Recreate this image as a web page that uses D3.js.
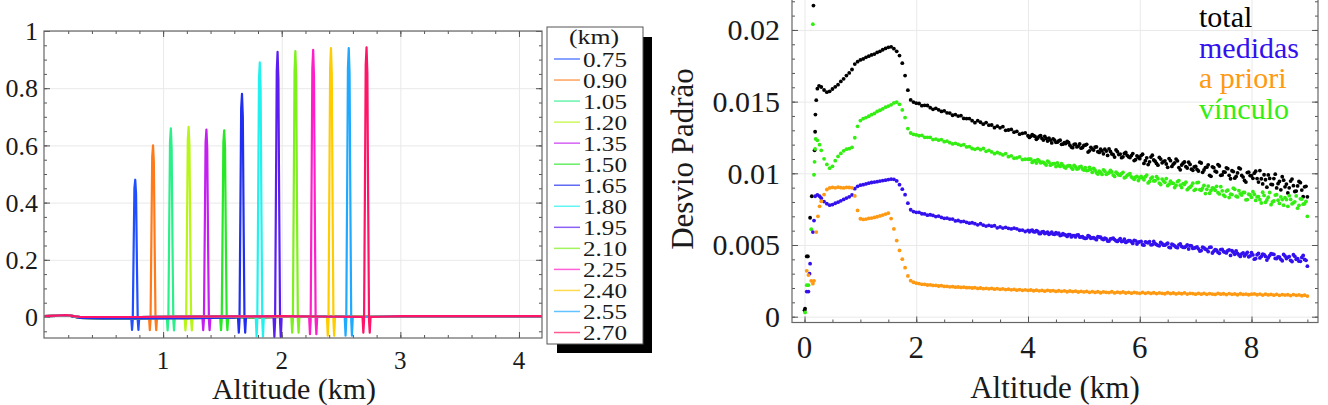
<!DOCTYPE html>
<html>
<head>
<meta charset="utf-8">
<title>Kernels e desvio padrao</title>
<script src="https://d3js.org/d3.v7.min.js"></script>
<style>
  body { margin: 0; background: #fff; }
  text { font-family: "Liberation Serif", "Tinos", "Times New Roman", serif; fill: #1a1a1a; }
  .grid line { stroke: #e9e9e9; stroke-width: 1; }
  .grid path, .ticks path { display: none; }
  .ticks line { stroke: #555; stroke-width: 1; }
  .frame { fill: none; stroke: #666; stroke-width: 1.2; }
</style>
</head>
<body>
<svg width="1328" height="405"></svg>
<script>
// ---------- left panel: kernels ----------
var kernelLabel = ["0.75","0.90","1.05","1.20","1.35","1.50","1.65","1.80","1.95","2.10","2.25","2.40","2.55","2.70"];
var kernelPeakAlt = [0.765,0.915,1.065,1.215,1.365,1.515,1.665,1.815,1.965,2.115,2.265,2.415,2.565,2.715];
var kernelColor = ["#1f4fff","#ff7a1a","#2af08a","#b8f518","#c41ff0","#26e826","#1f2ef0",
                   "#22f2ee","#5a1ff0","#7ef01a","#ff1fc8","#ffcc00","#1faaff","#ff1468"];
// offsets (km) around each peak and the kernel values read there
var spikeOffset = [-0.034,-0.027,-0.021,-0.014,-0.007,0,0.007,0.014,0.021,0.027,0.034];
var spikeValues = [
  [0,-0.045,-0.010,0.22,0.45,0.48,0.43,0.19,-0.010,-0.045,0],
  [0,-0.046,-0.010,0.27,0.56,0.60,0.54,0.24,-0.010,-0.046,0],
  [0,-0.047,-0.010,0.30,0.61,0.66,0.59,0.26,-0.010,-0.047,0],
  [0,-0.047,-0.010,0.30,0.62,0.665,0.60,0.27,-0.010,-0.047,0],
  [0,-0.046,-0.010,0.29,0.61,0.655,0.59,0.26,-0.010,-0.046,0],
  [0,-0.046,-0.010,0.29,0.61,0.653,0.59,0.26,-0.010,-0.046,0],
  [0,-0.055,-0.012,0.35,0.73,0.78,0.70,0.31,-0.012,-0.055,0],
  [0,-0.068,-0.015,0.40,0.83,0.89,0.80,0.36,-0.015,-0.068,0],
  [0,-0.070,-0.016,0.42,0.86,0.927,0.83,0.37,-0.016,-0.070,0],
  [0,-0.055,-0.013,0.42,0.86,0.93,0.84,0.37,-0.013,-0.055,0],
  [0,-0.060,-0.013,0.42,0.87,0.934,0.84,0.37,-0.013,-0.060,0],
  [0,-0.065,-0.014,0.42,0.87,0.94,0.85,0.38,-0.014,-0.065,0],
  [0,-0.065,-0.014,0.42,0.87,0.94,0.85,0.38,-0.014,-0.065,0],
  [0,-0.055,-0.013,0.42,0.88,0.943,0.85,0.38,-0.013,-0.055,0]
];
// baseline away from the peak: lower kernels sit slightly below zero
var baseLowAlt  = [0, 0.10, 0.18, 0.22, 0.30, 0.50, 0.80, 1.20, 1.60, 2.00, 3.00, 4.19];
var baseLowVal  = [0.003, 0.004, 0.006, 0.004, -0.003, -0.005, -0.005, -0.004, -0.002, 0.000, 0.001, 0.001];
var baseHighAlt = [0, 0.10, 0.18, 0.22, 0.30, 0.80, 1.20, 1.60, 2.00, 3.00, 4.19];
var baseHighVal = [0.003, 0.005, 0.007, 0.005, 0.000, 0.000, 0.001, 0.002, 0.003, 0.003, 0.003];

var kernXTicks = [1, 2, 3, 4];
var kernYTicks = [0, 0.2, 0.4, 0.6, 0.8, 1];

// ---------- right panel: standard deviation ----------
// values on the 0.30 .. 9.00 km grid (0.05 km step)
var sdTotal = [
  0.01602,0.01581,0.01566,0.01572,0.01588,0.01603,0.01618,0.01641,0.01659,0.01682,
  0.01700,0.01724,0.01762,0.01779,0.01791,0.01798,0.01809,0.01817,0.01826,0.01832,
  0.01843,0.01851,0.01862,0.01871,0.01879,0.01882,0.01869,0.01851,0.01821,0.01768,
  0.01682,0.01580,0.01512,0.01497,0.01489,
  0.01487,0.01472,0.01474,0.01473,0.01458,0.01446,0.01453,0.01443,0.01432,0.01436,0.01422,0.01420,0.01405,0.01410,0.01399,0.01402,0.01383,0.01382,0.01382,0.01367,
  0.01353,0.01367,0.01356,0.01343,0.01354,0.01336,0.01337,0.01318,0.01329,0.01317,0.01325,0.01300,0.01302,0.01306,0.01287,0.01292,0.01273,0.01279,0.01282,0.01262,
  0.01258,0.01263,0.01237,0.01258,0.01243,0.01258,0.01225,0.01232,0.01240,0.01216,0.01226,0.01202,0.01214,0.01222,0.01196,0.01179,0.01204,0.01190,0.01175,0.01194,
  0.01202,0.01157,0.01169,0.01183,0.01151,0.01168,0.01136,0.01155,0.01170,0.01135,0.01113,0.01151,0.01134,0.01115,0.01145,0.01115,0.01124,0.01089,0.01122,0.01102,
  0.01133,0.01088,0.01061,0.01113,0.01093,0.01069,0.01111,0.01073,0.01087,0.01042,0.01088,0.01064,0.01099,0.01040,0.01058,0.01079,0.01037,0.01062,0.01021,0.01049,
  0.01016,0.01072,0.01023,0.01043,0.00986,0.01045,0.01015,0.01061,0.00986,0.01010,0.01038,0.00986,0.01018,0.00966,0.01003,0.01031,0.00974,0.00939,0.01008,0.00983,
  0.01001,0.00963,0.01019,0.00926,0.00955,0.00989,0.00923,0.00963,0.00898,0.00943,0.00976,0.00906,0.00863,0.00946,0.00914,0.00876,0.00943,0.00883,0.00906,0.00836
];
var sdMedidas = [
  0.00826,0.00803,0.00788,0.00778,0.00782,0.00791,0.00799,0.00808,0.00818,0.00827,
  0.00836,0.00849,0.00893,0.00909,0.00917,0.00921,0.00926,0.00931,0.00936,0.00939,
  0.00942,0.00946,0.00949,0.00952,0.00956,0.00959,0.00958,0.00947,0.00921,0.00889,
  0.00851,0.00792,0.00746,0.00733,0.00728,
  0.00728,0.00718,0.00717,0.00708,0.00711,0.00706,0.00698,0.00702,0.00692,0.00686,0.00687,0.00681,0.00681,0.00668,0.00671,0.00663,0.00665,0.00658,0.00652,0.00655,
  0.00649,0.00641,0.00649,0.00638,0.00632,0.00637,0.00631,0.00635,0.00620,0.00626,0.00618,0.00623,0.00616,0.00612,0.00617,0.00613,0.00603,0.00604,0.00594,0.00602,
  0.00600,0.00593,0.00600,0.00580,0.00591,0.00580,0.00589,0.00581,0.00576,0.00586,0.00582,0.00569,0.00572,0.00560,0.00572,0.00566,0.00556,0.00570,0.00556,0.00549,
  0.00548,0.00560,0.00550,0.00544,0.00558,0.00554,0.00538,0.00542,0.00527,0.00544,0.00538,0.00525,0.00544,0.00527,0.00518,0.00531,0.00522,0.00532,0.00507,0.00522,
  0.00502,0.00522,0.00515,0.00501,0.00525,0.00503,0.00494,0.00509,0.00499,0.00512,0.00481,0.00500,0.00485,0.00501,0.00490,0.00483,0.00500,0.00495,0.00476,0.00482,
  0.00473,0.00461,0.00480,0.00467,0.00483,0.00444,0.00467,0.00449,0.00468,0.00454,0.00445,0.00466,0.00460,0.00435,0.00442,0.00420,0.00445,0.00436,0.00418,0.00447,
  0.00401,0.00432,0.00410,0.00437,0.00420,0.00411,0.00440,0.00434,0.00405,0.00416,0.00390,0.00423,0.00414,0.00393,0.00432,0.00400,0.00387,0.00413,0.00399,0.00352
];
var sdPriori = [
  0.00805,0.00852,0.00887,0.00898,0.00902,0.00899,0.00903,0.00900,0.00898,0.00902,
  0.00901,0.00899,0.00842,0.00741,0.00683,0.00678,0.00681,0.00685,0.00688,0.00692,
  0.00697,0.00703,0.00709,0.00716,0.00722,0.00684,0.00612,0.00531,0.00462,0.00401,
  0.00342,0.00284,0.00251,0.00240,0.00234,
  0.00231,0.00226,0.00226,0.00221,0.00222,0.00218,0.00218,0.00214,0.00216,0.00211,0.00212,0.00208,0.00210,0.00206,0.00207,0.00204,0.00206,0.00202,0.00203,0.00200,
  0.00202,0.00197,0.00200,0.00195,0.00198,0.00194,0.00197,0.00192,0.00195,0.00191,0.00194,0.00189,0.00192,0.00187,0.00190,0.00185,0.00189,0.00184,0.00187,0.00183,
  0.00186,0.00181,0.00185,0.00180,0.00183,0.00178,0.00184,0.00179,0.00182,0.00176,0.00181,0.00177,0.00180,0.00174,0.00179,0.00175,0.00178,0.00172,0.00177,0.00173,
  0.00176,0.00170,0.00175,0.00169,0.00174,0.00167,0.00173,0.00170,0.00168,0.00174,0.00166,0.00171,0.00167,0.00172,0.00165,0.00170,0.00164,0.00169,0.00166,0.00163,
  0.00169,0.00163,0.00168,0.00162,0.00167,0.00161,0.00166,0.00163,0.00160,0.00167,0.00161,0.00165,0.00159,0.00164,0.00160,0.00166,0.00158,0.00163,0.00161,0.00157,
  0.00163,0.00157,0.00162,0.00156,0.00161,0.00158,0.00155,0.00162,0.00157,0.00160,0.00154,0.00161,0.00156,0.00159,0.00153,0.00160,0.00155,0.00158,0.00153,0.00157,
  0.00159,0.00153,0.00158,0.00151,0.00157,0.00152,0.00155,0.00150,0.00156,0.00149,0.00154,0.00151,0.00153,0.00147,0.00154,0.00149,0.00152,0.00146,0.00150,0.00144
];
var sdVinculo = [
  0.01160,0.01101,0.01062,0.01036,0.01049,0.01088,0.01118,0.01139,0.01157,0.01168,
  0.01172,0.01181,0.01248,0.01328,0.01368,0.01381,0.01389,0.01398,0.01409,0.01418,
  0.01431,0.01440,0.01449,0.01461,0.01469,0.01478,0.01491,0.01497,0.01481,0.01442,
  0.01389,0.01312,0.01281,0.01272,0.01268,
  0.01262,0.01265,0.01251,0.01251,0.01250,0.01235,0.01239,0.01231,0.01235,0.01221,0.01224,0.01214,0.01205,0.01209,0.01202,0.01195,0.01200,0.01184,0.01186,0.01173,
  0.01167,0.01174,0.01165,0.01173,0.01153,0.01160,0.01149,0.01137,0.01145,0.01137,0.01128,0.01137,0.01116,0.01121,0.01105,0.01107,0.01114,0.01096,0.01098,0.01098,
  0.01099,0.01085,0.01072,0.01086,0.01077,0.01068,0.01085,0.01057,0.01068,0.01047,0.01054,0.01067,0.01043,0.01050,0.01053,0.01029,0.01044,0.01033,0.01048,0.01023,
  0.01019,0.01042,0.01007,0.01022,0.00995,0.01005,0.01024,0.00993,0.01004,0.01009,0.00978,0.00999,0.00986,0.01007,0.00974,0.00992,0.00975,0.00958,0.00979,0.00968,
  0.00968,0.00976,0.00933,0.00964,0.00947,0.00977,0.00932,0.00960,0.00937,0.00914,0.00945,0.00930,0.00916,0.00949,0.00901,0.00923,0.00886,0.00903,0.00931,0.00888,
  0.00937,0.00881,0.00916,0.00888,0.00861,0.00899,0.00882,0.00865,0.00907,0.00848,0.00876,0.00831,0.00852,0.00888,0.00835,0.00857,0.00867,0.00815,0.00854,0.00833,
  0.00854,0.00835,0.00816,0.00868,0.00798,0.00833,0.00781,0.00807,0.00851,0.00790,0.00817,0.00831,0.00770,0.00818,0.00794,0.00842,0.00777,0.00820,0.00788,0.00700
];
// in-between samples where the noisy clouds are dense (4.025 .. 8.975 km)
var totalExtra = [
  0.01250,0.01269,0.01257,0.01246,0.01263,0.01232,0.01242,0.01246,0.01212,0.01232,0.01217,0.01231,0.01203,0.01208,0.01215,0.01183,0.01201,0.01184,0.01205,0.01180,
  0.01196,0.01148,0.01181,0.01162,0.01184,0.01146,0.01156,0.01168,0.01125,0.01152,0.01130,0.01163,0.01131,0.01109,0.01139,0.01125,0.01110,0.01138,0.01095,0.01112,
  0.01124,0.01069,0.01108,0.01080,0.01126,0.01084,0.01057,0.01099,0.01082,0.01065,0.01103,0.01048,0.01073,0.01087,0.01024,0.01070,0.01046,0.01078,0.01029,0.01044,
  0.01027,0.01078,0.01007,0.01040,0.01059,0.00979,0.01039,0.01009,0.01051,0.00989,0.01008,0.01032,0.00962,0.01012,0.00978,0.01037,0.00985,0.00950,0.01005,0.00984,
  0.00965,0.01015,0.00939,0.00962,0.00990,0.00903,0.00964,0.00921,0.00994,0.00928,0.00885,0.00952,0.00925,0.00899,0.00960,0.00873,0.00912,0.00935,0.00837,0.00909
];
var medidasExtra = [
  0.00592,0.00604,0.00591,0.00595,0.00580,0.00593,0.00584,0.00575,0.00590,0.00575,0.00578,0.00566,0.00579,0.00569,0.00573,0.00556,0.00566,0.00569,0.00555,0.00558,
  0.00546,0.00566,0.00547,0.00552,0.00537,0.00555,0.00542,0.00548,0.00527,0.00542,0.00547,0.00529,0.00534,0.00524,0.00540,0.00524,0.00530,0.00511,0.00529,0.00519,
  0.00525,0.00499,0.00518,0.00524,0.00503,0.00509,0.00498,0.00518,0.00499,0.00506,0.00484,0.00506,0.00494,0.00481,0.00507,0.00484,0.00490,0.00472,0.00494,0.00479,
  0.00487,0.00458,0.00485,0.00471,0.00454,0.00485,0.00457,0.00464,0.00442,0.00469,0.00450,0.00460,0.00427,0.00450,0.00458,0.00431,0.00438,0.00424,0.00449,0.00424,
  0.00431,0.00405,0.00441,0.00420,0.00433,0.00395,0.00426,0.00437,0.00406,0.00417,0.00400,0.00434,0.00405,0.00419,0.00385,0.00421,0.00405,0.00386,0.00427,0.00393
];
var vinculoExtra = [
  0.01099,0.01076,0.01088,0.01096,0.01073,0.01076,0.01058,0.01078,0.01063,0.01068,0.01072,0.01048,0.01055,0.01037,0.01053,0.01040,0.01056,0.01030,0.01045,0.01030,
  0.01040,0.01021,0.01028,0.01035,0.01004,0.01015,0.00992,0.01015,0.00998,0.01021,0.00988,0.01008,0.00989,0.00998,0.00969,0.00986,0.00997,0.00968,0.00973,0.00950,
  0.00978,0.00955,0.00988,0.00943,0.00973,0.00948,0.00962,0.00922,0.00947,0.00963,0.00924,0.00932,0.00901,0.00942,0.00917,0.00928,0.00938,0.00896,0.00913,0.00881,
  0.00935,0.00886,0.00897,0.00859,0.00911,0.00880,0.00894,0.00909,0.00856,0.00878,0.00839,0.00882,0.00854,0.00896,0.00840,0.00879,0.00848,0.00866,0.00817,0.00849,
  0.00872,0.00811,0.00838,0.00793,0.00846,0.00814,0.00866,0.00800,0.00848,0.00812,0.00835,0.00778,0.00817,0.00844,0.00787,0.00801,0.00757,0.00822,0.00785,0.00804
];
// the first few hundred metres, [altitude, value]
var totalNear   = [[0.00,0.00044],[0.01,0.00056],[0.04,0.0042],[0.06,0.0042],[0.10,0.0069],[0.13,0.0084],[0.16,0.0217],[0.18,0.0116],[0.19,0.0129],[0.195,0.0141],[0.21,0.0151],[0.23,0.0159],[0.26,0.0161]];
var medidasNear = [[0.04,0.00175],[0.07,0.00175],[0.09,0.0030],[0.10,0.0037],[0.15,0.0059],[0.17,0.0067],[0.19,0.0084],[0.23,0.0085],[0.27,0.0084]];
var prioriNear  = [[0.04,0.0032],[0.07,0.0029],[0.12,0.0025],[0.15,0.0023],[0.17,0.0025],[0.21,0.0059],[0.24,0.0070],[0.27,0.0077]];
var vinculoNear = [[0.01,0.0003],[0.04,0.0022],[0.07,0.0022],[0.12,0.0061],[0.15,0.0204],[0.17,0.0099],[0.18,0.0108],[0.19,0.0117],[0.20,0.0124],[0.23,0.0123],[0.27,0.0120]];

var sdNames  = ["total", "medidas", "a priori", "vínculo"];
var sdColors = ["#000000", "#3311ee", "#ff9911", "#33ee11"];
var sdXTicks = [0, 2, 4, 6, 8];
var sdYTicks = [0, 0.005, 0.01, 0.015, 0.02];

// altitude grids of the dotted series
var sdAlt = sdTotal.map(function(d, i) { return +(0.30 + 0.05 * i).toFixed(3); });
var sdAltExtra = totalExtra.map(function(d, i) { return +(4.025 + 0.05 * i).toFixed(3); });

var svg = d3.select("svg");

function drawAxes(box, x, y, xMaj, xMin, yMaj, yMin) {
  var h = box.bottom - box.top, w = box.right - box.left;
  svg.append("g").attr("class", "grid").attr("transform", "translate(0," + box.bottom + ")")
     .call(d3.axisBottom(x).tickValues(xMaj).tickSize(-h).tickFormat(""));
  svg.append("g").attr("class", "grid").attr("transform", "translate(" + box.left + ",0)")
     .call(d3.axisLeft(y).tickValues(yMaj).tickSize(-w).tickFormat(""));
  var sides = [
    [d3.axisBottom, x, "translate(0," + box.bottom + ")", xMaj, xMin],
    [d3.axisTop, x, "translate(0," + box.top + ")", xMaj, xMin],
    [d3.axisLeft, y, "translate(" + box.left + ",0)", yMaj, yMin],
    [d3.axisRight, y, "translate(" + box.right + ",0)", yMaj, yMin]
  ];
  sides.forEach(function(s) {
    svg.append("g").attr("class", "ticks").attr("transform", s[2])
       .call(s[0](s[1]).tickValues(s[4]).tickSize(-3).tickFormat(""));
    svg.append("g").attr("class", "ticks").attr("transform", s[2])
       .call(s[0](s[1]).tickValues(s[3]).tickSize(-6).tickFormat(""));
  });
}

// ---- left panel
var kb = {left: 44, right: 542, top: 31, bottom: 338};
var kx = d3.scaleLinear().domain([0, 4.19]).range([44.5, 541.5]);
var ky = d3.scaleLinear().domain([-0.0734, 1]).range([338, 31]);

svg.append("clipPath").attr("id", "kclip").append("rect")
   .attr("x", kb.left).attr("y", kb.top).attr("width", kb.right - kb.left).attr("height", kb.bottom - kb.top);

drawAxes(kb, kx, ky, kernXTicks, d3.range(0.2, 4.19, 0.2), kernYTicks, d3.range(-0.05, 1.001, 0.05));

var kline = d3.line().x(function(d) { return kx(d[0]); }).y(function(d) { return ky(d[1]); });
var kg = svg.append("g").attr("clip-path", "url(#kclip)");
kernelPeakAlt.forEach(function(pk, k) {
  var bAlt = k < 7 ? baseLowAlt : baseHighAlt, bVal = k < 7 ? baseLowVal : baseHighVal;
  var pts = [];
  bAlt.forEach(function(a, i) { if (Math.abs(a - pk) > 0.04) pts.push([a, bVal[i]]); });
  spikeOffset.forEach(function(o, i) { pts.push([pk + o, spikeValues[k][i]]); });
  pts.sort(function(a, b) { return a[0] - b[0]; });
  kg.append("path").datum(pts).attr("d", kline)
    .attr("fill", "none").attr("stroke", kernelColor[k]).attr("stroke-width", 2.2)
    .attr("stroke-linejoin", "round");
});
svg.append("rect").attr("class", "frame").attr("x", kb.left).attr("y", kb.top)
   .attr("width", kb.right - kb.left).attr("height", kb.bottom - kb.top);

svg.selectAll(".kyl").data(kernYTicks).enter().append("text")
   .attr("x", 38).attr("y", function(d) { return ky(d); }).attr("dy", "0.35em")
   .attr("text-anchor", "end").attr("font-size", 26).text(function(d) { return d; });
svg.selectAll(".kxl").data(kernXTicks).enter().append("text")
   .attr("x", function(d) { return kx(d); }).attr("y", 369)
   .attr("text-anchor", "middle").attr("font-size", 25).text(function(d) { return d; });
svg.append("text").attr("x", 294).attr("y", 399).attr("text-anchor", "middle")
   .attr("font-size", 30).text("Altitude (km)");

// legend with drop shadow
svg.append("rect").attr("x", 557).attr("y", 37).attr("width", 95).attr("height", 316).attr("fill", "#000");
svg.append("rect").attr("x", 547).attr("y", 27).attr("width", 96).attr("height", 317)
   .attr("fill", "#fff").attr("stroke", "#555").attr("stroke-width", 1);
svg.append("text").attr("x", 569).attr("y", 44).attr("font-size", 22)
   .attr("textLength", 50).attr("lengthAdjust", "spacingAndGlyphs").text("(km)");
var lg = svg.append("g").selectAll("g").data(kernelLabel).enter().append("g")
   .attr("transform", function(d, i) { return "translate(0," + (66.5 + 21.04 * i) + ")"; });
lg.append("line").attr("x1", 554).attr("x2", 580).attr("y1", -7.5).attr("y2", -7.5)
  .attr("stroke", function(d, i) { return kernelColor[i]; }).attr("stroke-width", 1.5).attr("opacity", 0.7);
lg.append("text").attr("x", 583).attr("font-size", 20)
  .attr("textLength", 44).attr("lengthAdjust", "spacingAndGlyphs").text(function(d) { return d; });

// ---- right panel
var sb = {left: 792, right: 1318, top: -6, bottom: 322.5};
var sx = d3.scaleLinear().domain([-0.224, 9.19]).range([792, 1318]);
var sy = d3.scaleLinear().domain([-0.00042, 0.0225]).range([322.7, -5.9]);

svg.append("clipPath").attr("id", "sclip").append("rect")
   .attr("x", sb.left).attr("y", sb.top).attr("width", sb.right - sb.left).attr("height", sb.bottom - sb.top);

drawAxes(sb, sx, sy, sdXTicks, d3.range(0, 9.01, 0.5), sdYTicks, d3.range(0, 0.0225, 0.001));

function withAlt(vals, alts) { return vals.map(function(v, i) { return [alts[i], v]; }); }
var series = [
  {pts: totalNear.concat(withAlt(sdTotal, sdAlt), withAlt(totalExtra, sdAltExtra)), color: sdColors[0]},
  {pts: vinculoNear.concat(withAlt(sdVinculo, sdAlt), withAlt(vinculoExtra, sdAltExtra)), color: sdColors[3]},
  {pts: medidasNear.concat(withAlt(sdMedidas, sdAlt), withAlt(medidasExtra, sdAltExtra)), color: sdColors[1]},
  {pts: prioriNear.concat(withAlt(sdPriori, sdAlt)), color: sdColors[2]}
];
var sg = svg.append("g").attr("clip-path", "url(#sclip)");
series.forEach(function(s) {
  sg.append("g").selectAll("circle").data(s.pts).enter().append("circle")
    .attr("cx", function(d) { return sx(d[0]); })
    .attr("cy", function(d) { return sy(d[1]); })
    .attr("r", 1.9).attr("fill", s.color);
});
svg.append("rect").attr("class", "frame").attr("x", sb.left).attr("y", sb.top)
   .attr("width", sb.right - sb.left).attr("height", sb.bottom - sb.top);

svg.selectAll(".syl").data(sdYTicks).enter().append("text")
   .attr("x", 780).attr("y", function(d) { return sy(d); }).attr("dy", "0.35em")
   .attr("text-anchor", "end").attr("font-size", 30).text(function(d) { return d; });
svg.selectAll(".sxl").data(sdXTicks).enter().append("text")
   .attr("x", function(d) { return sx(d); }).attr("y", 358)
   .attr("text-anchor", "middle").attr("font-size", 31).text(function(d) { return d; });
svg.append("text").attr("x", 1055).attr("y", 398).attr("text-anchor", "middle")
   .attr("font-size", 31).text("Altitude (km)");
svg.append("text").attr("transform", "translate(693,159) rotate(-90)")
   .attr("text-anchor", "middle").attr("font-size", 31).text("Desvio Padrão");

svg.selectAll(".sleg").data(sdNames).enter().append("text")
   .attr("x", 1199).attr("y", function(d, i) { return 27 + 30.5 * i; })
   .attr("font-size", 30).style("fill", function(d, i) { return sdColors[i]; })
   .text(function(d) { return d; });
</script>
</body>
</html>
